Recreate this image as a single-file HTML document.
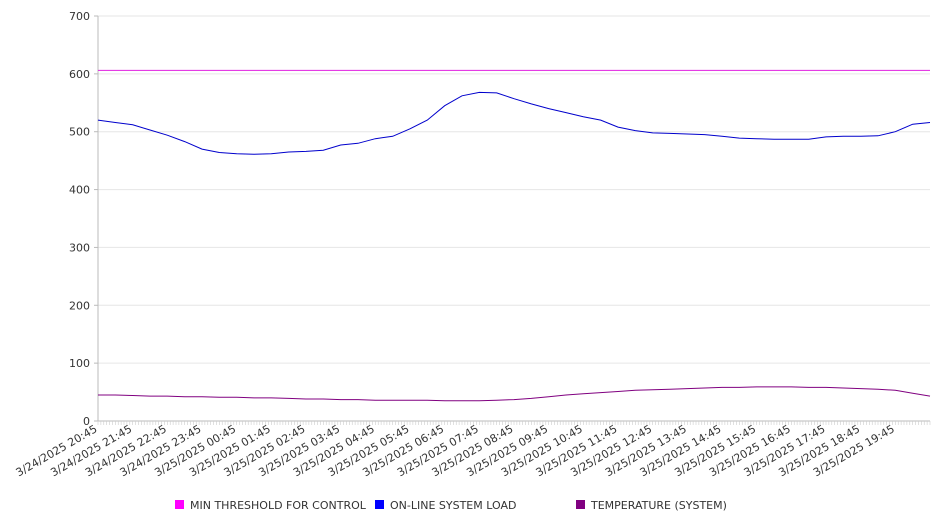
<!DOCTYPE html>
<html><head><meta charset="utf-8"><style>
body{margin:0;background:#fff;font-family:"DejaVu Sans","Liberation Sans",sans-serif;}
svg text{font-family:"DejaVu Sans","Liberation Sans",sans-serif;}
</style></head><body>
<svg id="chart" width="946" height="526" xmlns="http://www.w3.org/2000/svg"></svg>
<script>
const timeLabels=["3/24/2025 20:45","3/24/2025 21:45","3/24/2025 22:45","3/24/2025 23:45","3/25/2025 00:45","3/25/2025 01:45","3/25/2025 02:45","3/25/2025 03:45","3/25/2025 04:45","3/25/2025 05:45","3/25/2025 06:45","3/25/2025 07:45","3/25/2025 08:45","3/25/2025 09:45","3/25/2025 10:45","3/25/2025 11:45","3/25/2025 12:45","3/25/2025 13:45","3/25/2025 14:45","3/25/2025 15:45","3/25/2025 16:45","3/25/2025 17:45","3/25/2025 18:45","3/25/2025 19:45"];
const yTicks=[0,100,200,300,400,500,600,700];
// half-hourly samples, 49 points spanning 24h
const loadValues=[520,516,512,503,494,483,470,464,462,461,462,465,466,468,477,480,488,492,505,520,545,562,568,567,557,548,540,533,526,520,508,502,498,497,496,495,492,489,488,487,487,487,491,492,492,493,500,513,516];
const tempValues=[45,45,44,43,43,42,42,41,41,40,40,39,38,38,37,37,36,36,36,36,35,35,35,36,37,39,42,45,47,49,51,53,54,55,56,57,58,58,59,59,59,58,58,57,56,55,53,48,43];
const thresholdValues=[606,606];
const NS="http://www.w3.org/2000/svg";
const svg=document.getElementById('chart');
const X0=98,X1=930,Y0=421,Y1=16,HOURS=24;
const xh=h=>X0+(X1-X0)*h/HOURS;
const y=v=>Y0-(Y0-Y1)*v/700;
function el(t,a){const e=document.createElementNS(NS,t);for(const k in a)e.setAttribute(k,a[k]);svg.appendChild(e);return e;}
yTicks.forEach(v=>{
  const g=el('line',{x1:X0,x2:X1,y1:y(v),y2:y(v),stroke:v===0?'#bbb':'#e6e6e6','stroke-width':1});
  
  
  el('line',{x1:X0-4,x2:X0,y1:y(v),y2:y(v),stroke:'#bbb'});
  const t=el('text',{x:X0-8,y:y(v)+4,'text-anchor':'end','font-size':11,fill:'#333'});
  t.textContent=v;
  
  
});
const ax=el('line',{x1:X0,x2:X0,y1:Y1,y2:Y0,stroke:'#bbb'});


for(let m=0;m<=HOURS*12;m++){el('line',{x1:xh(m/12),x2:xh(m/12),y1:Y0,y2:Y0+4,stroke:'#ccc','stroke-width':0.6});}
timeLabels.forEach((s,i)=>{
  const x=xh(i),yy=Y0+10;
  const t=el('text',{x:x,y:yy,'text-anchor':'end','font-size':11,fill:'#333',transform:`rotate(-30 ${x} ${yy})`});
  t.textContent=s;
  
  
});
function series(vals,color,name){
  const n=vals.length-1;
  const d=vals.map((v,i)=>(i?'L':'M')+xh(HOURS*i/n).toFixed(1)+','+y(v).toFixed(1)).join(' ');
  const p=el('path',{d:d,fill:'none',stroke:color,'stroke-width':1});
  
  
}
series(thresholdValues,'#e020e0','threshold-line');
series(loadValues,'#0000cc','system-load-line');
series(tempValues,'#800080','temperature-line');
const leg=[['MIN THRESHOLD FOR CONTROL','#ff00ff',175],['ON-LINE SYSTEM LOAD','#0000ff',375],['TEMPERATURE (SYSTEM)','#800080',576]];
leg.forEach(([s,c,x])=>{
  const r=el('rect',{x:x,y:500,width:9,height:9,fill:c});
  
  
  const t=el('text',{x:x+15,y:509,'font-size':11,fill:'#333'});
  t.textContent=s;
  
  
});
</script>
</body></html>
